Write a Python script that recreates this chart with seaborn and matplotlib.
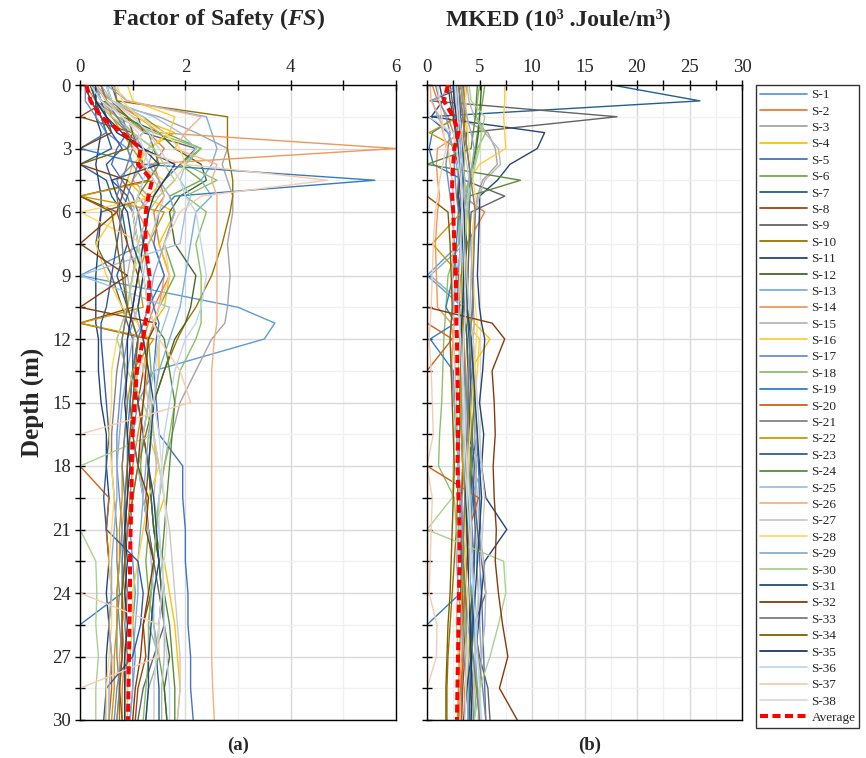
import matplotlib
matplotlib.use("Agg")
import matplotlib.pyplot as plt
from matplotlib.lines import Line2D
from matplotlib.ticker import MultipleLocator, FuncFormatter
import pandas as pd
import seaborn as sns

# Depth of each reading (m)
depth = [0, 0.75, 1.5, 2.25, 3, 3.75, 4.5, 5.25, 6, 7.5, 9, 10.5, 11.25, 12,
         13.5, 15, 16.5, 18, 19.5, 21, 22.5, 24, 25.5, 27, 28.5, 30]

site_names = [f"S-{i}" for i in range(1, 39)]
site_colors = ["#5B9BD5", "#ED7D31", "#A5A5A5", "#FFC000", "#4472C4", "#70AD47",
               "#255E91", "#9E480E", "#636363", "#997300", "#264478", "#43682B",
               "#7CAFDD", "#F1975A", "#B7B7B7", "#FFCD33", "#698ED0", "#8CC168",
               "#327DC2", "#D26012", "#848484", "#CC9A00", "#335AA1", "#5A8A39",
               "#9DC3E6", "#F4B183", "#C9C9C9", "#FFD966", "#8FAADC", "#A9D18E",
               "#1F4E79", "#843C0C", "#7B7B7B", "#7F6000", "#203864", "#BDD7EE",
               "#F8CBAD", "#DBDBDB"]

# Factor of safety against liquefaction, per borehole
fs_s01 = [0.3, 0.5, 0.9, 1.2, 0.9, 1.0, 1.2, 1.1, 1.3, 1.2, 0.0, 3.0, 3.7, 3.5, 1.4, 1.1, 1.0, 1.1, 1.0, 0.95, 1.0, 1.05, 1.0, 1.05, 1.0, 0.95]
fs_s02 = [0.1, 0.3, 0.7, 1.3, 1.6, 1.4, 1.5, 1.6, 1.4, 1.5, 1.7, 1.4, 1.3, 1.2, 1.3, 1.2, 1.1, 1.0, 0.95, 0.9, 0.85, 0.9, 0.8, 0.85, 0.8, 0.8]
fs_s03 = [0.2, 0.4, 1.5, 2.2, 2.8, 2.7, 2.8, 2.9, 2.9, 2.8, 2.85, 2.8, 2.75, 2.5, 2.2, 1.9, 1.75, 1.6, 1.5, 1.45, 1.4, 1.35, 1.3, 1.5, 1.3, 1.25]
fs_s04 = [0.5, 0.6, 1.0, 1.8, 1.3, 1.0, 0.9, 1.2, 1.8, 1.5, 1.7, 1.6, 1.4, 1.5, 1.5, 1.4, 1.3, 1.5, 1.6, 1.4, 1.6, 1.7, 1.8, 1.85, 1.9, 1.85]
fs_s05 = [0.4, 0.5, 0.8, 0.9, 0.7, 0.6, 0.8, 1.0, 1.1, 1.2, 1.3, 1.4, 1.5, 1.45, 1.4, 1.45, 1.5, 1.95, 1.95, 2.0, 2.0, 2.05, 2.05, 2.1, 2.1, 2.15]
fs_s06 = [0.2, 0.6, 1.2, 1.6, 2.3, 1.9, 2.3, 1.7, 1.8, 1.6, 1.8, 1.5, 1.4, 1.3, 1.35, 1.3, 1.2, 1.15, 1.2, 1.3, 1.25, 1.3, 1.4, 1.5, 1.6, 1.65]
fs_s07 = [0.3, 0.3, 0.4, 0.5, 0.6, 0.0, 0.5, 0.6, 0.8, 0.9, 0.7, 0.9, 1.0, 1.1, 1.0, 1.1, 1.2, 1.3, 1.35, 1.4, 1.5, 1.55, 1.5, 1.45, 1.5, 1.5]
fs_s08 = [0.3, 0.5, 0.0, 1.0, 1.1, 1.2, 1.3, 0.0, 0.7, 0.9, 1.1, 1.0, 0.0, 1.3, 1.2, 1.1, 1.2, 1.3, 1.25, 1.3, 1.4, 1.35, 1.2, 1.25, 1.1, 1.05]
fs_s09 = [0.6, 0.7, 1.1, 1.2, 2.2, 1.9, 1.6, 1.4, 0.4, 0.3, 0.6, 0.8, 0.9, 1.0, 1.0, 0.95, 1.0, 1.1, 1.2, 1.3, 1.4, 1.5, 1.6, 1.4, 1.2, 1.1]
fs_s10 = [0.65, 0.7, 2.8, 2.8, 2.8, 2.85, 2.9, 2.9, 2.85, 2.7, 2.5, 2.2, 2.0, 1.85, 1.6, 1.4, 1.25, 1.1, 1.0, 0.9, 0.85, 0.8, 0.8, 0.8, 0.75, 0.75]
fs_s11 = [0.2, 0.3, 0.3, 0.4, 0.35, 0.3, 0.35, 0.4, 0.4, 0.35, 0.3, 0.3, 0.3, 0.35, 0.35, 0.4, 0.5, 0.5, 0.55, 0.5, 0.55, 0.5, 0.55, 0.5, 0.5, 0.5]
fs_s12 = [0.4, 0.5, 0.8, 1.5, 1.8, 2.3, 2.4, 1.9, 1.7, 1.8, 2.2, 2.1, 2.0, 1.8, 1.6, 1.4, 1.35, 1.3, 1.35, 1.4, 1.5, 1.55, 1.6, 1.7, 1.6, 1.65]
fs_s13 = [0.5, 0.9, 2.4, 2.5, 2.6, 2.5, 2.3, 2.5, 2.2, 2.1, 2.0, 1.9, 1.8, 1.7, 1.5, 1.4, 1.3, 1.25, 1.2, 1.15, 1.1, 1.1, 1.05, 1.0, 1.0, 0.95]
fs_s14 = [0.3, 0.6, 1.1, 1.5, 6.0, 1.2, 1.0, 1.3, 1.1, 1.4, 1.6, 1.5, 1.4, 1.3, 1.1, 1.0, 0.95, 0.9, 0.85, 0.8, 0.8, 0.85, 0.8, 0.75, 0.75, 0.7]
fs_s15 = [0.3, 0.5, 0.9, 1.0, 1.4, 1.3, 1.5, 1.4, 1.1, 1.0, 0.9, 1.0, 1.1, 1.2, 1.3, 1.35, 1.4, 1.45, 1.4, 1.5, 1.55, 1.6, 1.6, 1.6, 1.55, 1.55]
fs_s16 = [0.9, 1.0, 1.8, 1.7, 1.3, 1.1, 1.6, 1.3, 0.7, 0.3, 0.5, 0.8, 1.1, 1.3, 1.2, 1.3, 1.4, 1.5, 1.3, 1.2, 1.1, 1.0, 1.0, 0.95, 0.9, 0.9]
fs_s17 = [0.1, 0.1, 0.3, 0.5, 0.9, 1.0, 0.7, 0.8, 1.0, 1.1, 1.2, 1.1, 1.0, 0.9, 0.8, 0.75, 0.7, 0.7, 0.75, 0.8, 0.75, 0.7, 0.75, 0.8, 0.7, 0.65]
fs_s18 = [0.3, 0.4, 0.7, 1.4, 2.3, 2.0, 2.6, 2.0, 2.4, 2.2, 2.3, 2.3, 2.3, 2.2, 1.9, 1.8, 1.7, 1.6, 1.5, 1.45, 1.4, 1.35, 1.3, 1.3, 1.25, 1.2]
fs_s19 = [0.1, 0.2, 0.4, 0.5, 0.0, 1.2, 5.6, 1.8, 1.5, 1.4, 1.6, 1.3, 1.2, 1.1, 1.0, 0.95, 0.9, 0.9, 0.85, 0.85, 0.8, 0.8, 0.0, 0.0, 0.0, 0.0]
fs_s20 = [0.0, 0.0, 0.0, 0.0, 0.0, 0.0, 0.0, 0.0, 0.0, 0.0, 0.0, 0.0, 0.0, 0.0, 0.0, 0.0, 0.0, 0.0, 0.55, 0.5, 0.55, 0.6, 0.55, 0.6, 0.6, 0.55]
fs_s21 = [0.2, 0.3, 0.6, 0.9, 1.2, 1.1, 1.0, 0.9, 1.0, 1.1, 1.0, 0.9, 0.85, 0.8, 0.7, 0.65, 0.6, 0.6, 0.65, 0.7, 0.7, 0.75, 0.7, 0.7, 0.75, 0.7]
fs_s22 = [0.4, 0.5, 0.6, 0.8, 1.0, 1.2, 1.4, 0.0, 1.6, 1.3, 1.1, 1.2, 0.0, 1.4, 1.0, 0.9, 0.85, 0.8, 0.8, 0.75, 0.75, 0.7, 0.7, 0.65, 0.65, 0.6]
fs_s23 = [0.3, 0.4, 0.5, 0.6, 0.8, 0.5, 0.6, 0.9, 0.8, 0.7, 0.6, 0.5, 0.4, 0.4, 0.45, 0.5, 0.55, 0.5, 0.45, 0.5, 1.1, 1.2, 1.15, 1.0, 0.5, 0.45]
fs_s24 = [0.2, 0.4, 0.9, 1.3, 1.4, 1.5, 1.3, 1.1, 1.0, 1.1, 1.2, 1.3, 1.4, 1.6, 1.7, 1.8, 1.75, 1.7, 1.65, 1.6, 1.55, 1.6, 1.7, 1.75, 1.8, 1.8]
fs_s25 = [0.4, 0.6, 1.4, 1.9, 2.2, 2.0, 1.9, 2.1, 2.0, 1.9, 0.0, 1.7, 1.6, 1.5, 1.4, 1.3, 1.2, 1.1, 1.2, 1.3, 1.35, 1.4, 1.4, 1.45, 1.4, 1.4]
fs_s26 = [0.6, 0.9, 2.3, 2.0, 1.8, 2.6, 2.5, 2.6, 2.6, 2.6, 2.6, 2.6, 2.6, 2.55, 2.5, 2.5, 2.5, 2.5, 2.5, 2.5, 2.5, 2.5, 2.5, 2.5, 2.52, 2.55]
fs_s27 = [0.5, 0.6, 1.2, 1.4, 1.3, 1.2, 1.4, 1.6, 1.5, 1.3, 1.2, 1.1, 1.0, 1.1, 1.2, 1.3, 1.4, 1.5, 1.6, 1.7, 1.75, 1.8, 1.85, 1.9, 1.9, 1.85]
fs_s28 = [0.7, 0.8, 1.1, 1.6, 1.9, 2.0, 1.8, 1.5, 0.0, 1.2, 1.0, 0.9, 0.8, 0.7, 0.6, 0.6, 0.55, 0.6, 0.65, 0.6, 0.55, 0.6, 0.6, 0.55, 0.5, 0.5]
fs_s29 = [0.3, 0.4, 0.7, 1.0, 1.2, 1.3, 1.5, 1.7, 1.8, 1.6, 1.4, 1.3, 1.2, 1.0, 0.9, 0.8, 0.75, 0.7, 0.7, 0.65, 0.6, 0.6, 0.55, 0.6, 0.55, 0.55]
fs_s30 = [0.2, 0.3, 0.6, 1.0, 1.4, 1.6, 1.8, 1.5, 1.3, 1.1, 1.0, 0.9, 0.8, 0.7, 0.9, 1.2, 1.4, 0.0, 0.0, 0.0, 0.3, 0.32, 0.3, 0.35, 0.3, 0.3]
fs_s31 = [0.2, 0.3, 0.5, 0.8, 1.2, 1.5, 0.6, 0.7, 0.9, 1.0, 1.2, 1.1, 1.15, 1.2, 1.3, 1.4, 1.35, 1.3, 1.4, 1.45, 1.5, 1.4, 1.35, 1.3, 1.3, 1.25]
fs_s32 = [0.1, 0.2, 0.4, 0.6, 0.0, 0.0, 0.9, 0.8, 0.7, 0.0, 0.9, 0.0, 1.45, 1.3, 1.25, 1.2, 1.15, 1.1, 1.3, 1.25, 1.4, 1.3, 1.2, 1.15, 1.05, 1.0]
fs_s33 = [0.4, 0.5, 0.7, 0.9, 1.0, 0.9, 0.8, 0.7, 0.75, 0.8, 0.85, 0.9, 0.85, 0.8, 0.85, 0.9, 0.85, 0.8, 0.85, 0.9, 0.85, 0.9, 0.85, 0.9, 0.85, 0.85]
fs_s34 = [0.5, 0.6, 0.9, 1.0, 0.9, 0.0, 0.0, 0.0, 0.6, 0.7, 0.8, 0.9, 1.0, 1.1, 1.05, 1.0, 0.95, 0.9, 0.9, 0.85, 0.85, 0.8, 0.8, 0.8, 0.75, 0.8]
fs_s35 = [0.3, 0.3, 0.5, 0.7, 1.2, 1.8, 1.6, 1.4, 1.3, 1.2, 1.1, 1.0, 0.95, 0.9, 0.9, 0.85, 0.9, 0.95, 0.9, 0.85, 0.9, 0.85, 0.9, 0.85, 0.85, 0.85]
fs_s36 = [0.5, 0.6, 1.0, 1.3, 1.5, 1.7, 1.9, 2.0, 2.2, 2.3, 2.4, 2.3, 2.2, 2.0, 1.8, 1.7, 1.6, 1.55, 1.5, 1.5, 1.55, 1.6, 1.6, 1.65, 1.7, 1.7]
fs_s37 = [0.3, 0.5, 0.8, 1.2, 1.0, 2.0, 4.7, 2.3, 1.9, 1.6, 1.7, 1.5, 1.4, 1.5, 1.9, 2.1, 0.0, 0.0, 0.0, 0.0, 0.0, 0.0, 1.5, 1.5, 0.0, 0.0]
fs_s38 = [0.2, 0.4, 0.8, 1.1, 1.2, 1.3, 1.2, 1.1, 1.0, 1.1, 1.2, 1.3, 1.4, 1.5, 1.45, 1.4, 1.5, 1.55, 1.6, 1.65, 1.6, 1.55, 1.5, 1.45, 1.4, 1.4]
fs_average = [0.12, 0.2, 0.4, 0.8, 1.15, 1.1, 1.37, 1.3, 1.25, 1.24, 1.32, 1.3, 1.24, 1.2, 1.08, 1.04, 1.0, 0.98, 0.98, 0.96, 0.95, 0.95, 0.94, 0.93, 0.92, 0.91]

# Maximum kinetic energy density (10^3 J/m^3), per borehole
mked_s01 = [3.0, 3.2, 3.4, 3.0, 2.8, 2.6, 2.7, 2.8, 3.0, 3.1, 0.0, 3.4, 3.6, 3.5, 3.3, 3.2, 3.3, 3.4, 3.3, 3.4, 3.5, 3.4, 3.3, 3.4, 3.3, 3.2]
mked_s02 = [0.5, 1.0, 2.0, 2.5, 2.8, 3.0, 3.2, 3.4, 5.5, 3.8, 3.5, 3.7, 3.6, 3.5, 3.7, 3.9, 4.0, 4.2, 4.0, 3.8, 3.9, 4.1, 3.7, 3.9, 3.6, 3.5]
mked_s03 = [3.5, 3.2, 3.0, 5.8, 6.5, 6.7, 5.3, 4.8, 4.6, 4.4, 4.3, 4.4, 4.5, 4.4, 4.5, 4.6, 4.5, 4.7, 4.6, 4.8, 4.7, 4.9, 5.0, 5.2, 5.0, 4.9]
mked_s04 = [3.2, 3.4, 3.6, 3.8, 3.7, 3.5, 3.6, 3.8, 3.9, 4.0, 3.9, 3.8, 4.5, 6.0, 4.1, 4.3, 4.0, 3.8, 3.6, 3.7, 3.9, 4.2, 4.4, 4.6, 4.5, 4.4]
mked_s05 = [3.4, 3.5, 3.4, 3.6, 3.8, 4.0, 4.2, 4.1, 4.0, 4.2, 4.3, 4.4, 4.2, 4.1, 4.4, 4.5, 4.7, 4.9, 5.0, 5.1, 5.0, 5.2, 5.3, 5.4, 5.5, 5.6]
mked_s06 = [5.5, 5.3, 5.0, 4.8, 4.6, 4.3, 4.1, 3.9, 3.7, 3.5, 3.8, 3.6, 3.4, 3.3, 3.5, 3.7, 3.6, 3.8, 3.9, 4.1, 4.0, 4.2, 4.4, 4.6, 4.8, 5.0]
mked_s07 = [17.6, 26.0, 0.2, 2.0, 2.5, 3.0, 3.2, 3.4, 3.6, 3.5, 3.4, 3.6, 3.7, 3.8, 3.9, 4.0, 4.1, 4.2, 4.3, 4.2, 4.1, 4.0, 4.2, 4.3, 4.1, 4.0]
mked_s08 = [2.2, 2.4, 2.6, 2.8, 3.0, 3.1, 3.0, 2.9, 3.1, 3.2, 3.0, 3.1, 3.2, 3.3, 3.2, 3.1, 3.3, 3.4, 3.3, 3.2, 3.3, 3.4, 3.5, 3.6, 3.4, 3.3]
mked_s09 = [4.0, 0.3, 18.1, 3.8, 3.5, 3.4, 3.6, 7.4, 4.2, 4.0, 3.9, 3.8, 4.0, 4.1, 4.2, 4.5, 4.8, 4.2, 4.5, 4.8, 5.2, 5.6, 4.5, 5.0, 5.8, 6.0]
mked_s10 = [3.5, 3.6, 3.6, 3.5, 3.5, 3.4, 3.5, 3.5, 3.4, 3.4, 3.3, 3.4, 3.3, 3.3, 3.2, 3.2, 3.1, 3.0, 2.9, 2.8, 2.6, 2.4, 2.2, 2.0, 1.9, 1.9]
mked_s11 = [1.2, 1.5, 0.4, 11.2, 10.5, 7.9, 6.7, 5.0, 5.0, 4.9, 4.8, 5.0, 5.2, 5.5, 5.3, 5.0, 5.4, 5.2, 5.6, 7.6, 5.5, 5.2, 4.9, 4.6, 4.2, 3.9]
mked_s12 = [5.2, 5.1, 5.0, 4.9, 4.7, 4.4, 4.2, 3.7, 3.5, 3.8, 3.6, 3.5, 3.7, 3.8, 3.9, 4.0, 4.2, 4.3, 4.0, 4.2, 4.5, 4.3, 4.1, 3.9, 4.0, 4.1]
mked_s13 = [3.0, 0.5, 1.0, 2.0, 2.5, 2.8, 3.0, 3.2, 3.4, 3.6, 0.3, 3.8, 4.0, 4.2, 3.9, 3.7, 3.5, 5.3, 4.2, 4.0, 3.8, 4.3, 4.5, 4.6, 4.7, 4.5]
mked_s14 = [3.8, 3.6, 3.4, 3.2, 1.0, 0.9, 1.0, 1.2, 1.0, 0.8, 0.9, 1.0, 2.3, 2.5, 2.3, 2.6, 2.8, 3.0, 3.2, 3.4, 3.6, 3.8, 3.5, 3.3, 3.1, 3.0]
mked_s15 = [3.8, 4.0, 4.5, 5.5, 6.8, 7.0, 5.5, 5.0, 4.5, 4.3, 4.2, 4.1, 4.0, 4.1, 4.3, 4.5, 4.7, 4.6, 4.8, 5.0, 5.4, 5.6, 5.5, 5.2, 5.0, 4.9]
mked_s16 = [7.4, 7.4, 7.3, 7.4, 7.5, 5.0, 4.0, 3.5, 3.4, 3.3, 3.5, 3.6, 3.8, 5.0, 4.8, 4.5, 4.3, 4.2, 4.0, 3.8, 3.6, 3.5, 3.7, 3.9, 4.0, 4.1]
mked_s17 = [0.8, 1.2, 1.8, 2.2, 2.0, 1.8, 2.0, 2.2, 2.4, 2.6, 2.8, 3.0, 3.2, 3.4, 3.6, 3.3, 3.1, 3.0, 3.2, 3.4, 3.6, 3.8, 3.7, 3.9, 4.0, 4.1]
mked_s18 = [5.0, 4.8, 4.7, 5.6, 4.8, 4.5, 4.0, 3.5, 3.2, 3.0, 2.0, 1.8, 1.7, 1.6, 1.5, 1.4, 1.2, 1.1, 2.6, 2.8, 3.3, 3.5, 3.6, 3.8, 3.9, 4.0]
mked_s19 = [2.5, 2.6, 2.8, 0.5, 0.2, 0.6, 3.5, 3.2, 3.0, 2.8, 2.5, 1.8, 2.7, 0.3, 2.5, 2.6, 2.8, 3.0, 3.1, 3.2, 3.3, 3.2, 0.0, 0.0, 0.0, 0.0]
mked_s20 = [0.0, 0.0, 0.0, 0.0, 0.0, 0.0, 0.0, 0.0, 0.0, 0.0, 0.0, 0.0, 0.0, 2.4, 0.0, 0.0, 0.0, 0.0, 4.9, 4.0, 3.8, 3.6, 3.4, 3.5, 3.2, 3.0]
mked_s21 = [2.8, 2.9, 3.0, 3.1, 3.2, 3.1, 3.0, 3.2, 3.3, 3.4, 3.5, 3.6, 3.5, 3.4, 3.6, 3.8, 3.9, 4.0, 4.1, 4.3, 4.5, 4.3, 4.6, 4.9, 5.3, 5.6]
mked_s22 = [3.2, 3.4, 3.0, 0.2, 3.0, 3.2, 3.3, 3.4, 3.3, 0.5, 3.2, 3.3, 3.4, 3.5, 3.3, 3.2, 3.3, 3.4, 3.6, 3.5, 3.4, 3.3, 3.2, 3.1, 3.0, 2.9]
mked_s23 = [3.0, 3.1, 3.2, 3.3, 3.4, 3.5, 3.4, 3.3, 3.5, 3.6, 3.7, 3.8, 3.9, 4.0, 4.1, 4.2, 4.3, 4.5, 4.4, 4.6, 4.5, 4.4, 4.3, 4.2, 4.1, 4.0]
mked_s24 = [4.8, 4.7, 4.6, 4.4, 4.2, 0.0, 8.9, 4.0, 3.8, 3.6, 3.7, 3.8, 4.0, 4.2, 4.4, 4.5, 4.3, 4.2, 4.0, 3.8, 3.5, 3.7, 3.9, 4.1, 4.3, 4.4]
mked_s25 = [2.6, 2.7, 2.9, 3.0, 3.2, 3.4, 3.6, 3.5, 3.4, 3.3, 3.5, 3.7, 3.6, 3.5, 3.4, 3.6, 3.7, 3.9, 4.1, 4.2, 4.3, 4.5, 4.8, 4.6, 4.4, 4.3]
mked_s26 = [0.3, 0.4, 1.2, 1.5, 2.0, 2.2, 2.4, 2.5, 2.6, 2.5, 2.4, 2.5, 2.6, 2.5, 2.7, 2.8, 2.9, 3.0, 3.1, 3.2, 3.0, 2.9, 2.8, 3.0, 3.1, 3.2]
mked_s27 = [2.9, 3.0, 3.1, 3.3, 3.5, 3.8, 4.0, 3.9, 3.7, 3.6, 3.8, 4.0, 4.2, 4.4, 4.6, 4.8, 5.0, 5.2, 5.5, 5.3, 5.1, 4.9, 4.7, 4.5, 4.3, 4.2]
mked_s28 = [3.6, 3.7, 3.8, 3.9, 4.0, 4.2, 4.4, 4.6, 4.5, 4.3, 4.4, 4.6, 4.8, 4.7, 4.5, 4.3, 4.1, 3.9, 3.8, 3.7, 3.6, 3.8, 4.0, 3.9, 3.7, 3.6]
mked_s29 = [3.3, 3.5, 3.8, 4.2, 4.5, 4.3, 4.0, 3.7, 3.5, 3.3, 2.8, 2.5, 2.3, 2.2, 2.4, 2.6, 2.8, 3.0, 3.2, 3.0, 2.8, 3.0, 3.3, 3.6, 3.8, 3.9]
mked_s30 = [4.0, 4.2, 5.5, 5.2, 5.0, 4.6, 4.3, 4.0, 3.8, 3.6, 3.4, 3.3, 3.2, 3.1, 3.0, 2.8, 2.6, 2.5, 2.4, 0.0, 7.3, 7.5, 6.8, 6.0, 5.0, 4.5]
mked_s31 = [2.0, 2.2, 2.5, 2.7, 3.0, 3.2, 3.1, 3.0, 3.2, 3.4, 3.6, 3.8, 4.0, 4.2, 4.4, 4.6, 4.8, 5.0, 5.2, 5.0, 4.8, 4.6, 4.4, 4.2, 3.8, 3.5]
mked_s32 = [0.0, 0.0, 0.0, 0.0, 0.0, 0.0, 0.0, 0.0, 0.0, 0.0, 0.0, 0.0, 6.2, 7.4, 6.2, 6.4, 6.5, 6.3, 6.4, 6.6, 6.5, 6.8, 7.2, 7.7, 6.9, 8.6]
mked_s33 = [3.0, 3.2, 3.4, 3.6, 3.8, 4.0, 4.2, 4.4, 4.6, 4.5, 4.4, 4.3, 4.2, 4.1, 4.0, 3.9, 3.8, 3.7, 3.6, 3.5, 3.4, 3.6, 3.9, 4.4, 4.7, 5.0]
mked_s34 = [0.0, 0.0, 0.0, 0.0, 0.0, 0.0, 0.0, 0.0, 2.0, 2.2, 2.3, 2.4, 2.3, 2.2, 2.3, 2.4, 2.5, 2.6, 2.5, 2.4, 2.3, 2.2, 2.0, 1.9, 1.8, 1.8]
mked_s35 = [2.5, 2.6, 2.8, 3.0, 3.1, 3.2, 3.3, 3.4, 3.5, 3.6, 3.5, 3.4, 3.3, 3.2, 3.3, 3.4, 3.5, 3.6, 3.7, 3.8, 3.9, 4.0, 4.1, 4.2, 4.3, 4.2]
mked_s36 = [2.7, 2.8, 2.9, 3.0, 3.1, 3.2, 3.3, 3.4, 3.3, 3.2, 3.1, 3.0, 3.1, 3.2, 3.3, 3.4, 3.5, 3.6, 3.8, 4.0, 4.2, 4.4, 4.6, 4.8, 5.0, 5.2]
mked_s37 = [1.0, 1.2, 1.4, 1.6, 1.8, 1.5, 1.2, 1.0, 0.8, 0.6, 0.5, 0.4, 0.3, 0.2, 0.4, 0.5, 0.6, 0.0, 0.5, 0.4, 0.3, 0.2, 0.95, 0.9, 0.0, 0.0]
mked_s38 = [0.1, 0.1, 0.2, 2.5, 2.8, 3.0, 3.2, 3.3, 3.4, 3.5, 3.6, 3.7, 3.6, 3.5, 3.4, 3.5, 3.6, 3.8, 4.0, 4.2, 4.1, 4.0, 3.9, 3.8, 3.7, 3.6]
mked_average = [2.0, 1.6, 2.5, 3.0, 2.6, 2.5, 2.4, 2.4, 2.5, 2.6, 2.75, 2.8, 2.8, 2.85, 2.9, 2.95, 2.95, 2.9, 3.0, 3.1, 3.1, 3.05, 3.0, 2.95, 2.9, 2.85]

fs_series = [fs_s01, fs_s02, fs_s03, fs_s04, fs_s05, fs_s06, fs_s07, fs_s08, fs_s09, fs_s10,
             fs_s11, fs_s12, fs_s13, fs_s14, fs_s15, fs_s16, fs_s17, fs_s18, fs_s19, fs_s20,
             fs_s21, fs_s22, fs_s23, fs_s24, fs_s25, fs_s26, fs_s27, fs_s28, fs_s29, fs_s30,
             fs_s31, fs_s32, fs_s33, fs_s34, fs_s35, fs_s36, fs_s37, fs_s38]
mked_series = [mked_s01, mked_s02, mked_s03, mked_s04, mked_s05, mked_s06, mked_s07, mked_s08,
               mked_s09, mked_s10, mked_s11, mked_s12, mked_s13, mked_s14, mked_s15, mked_s16,
               mked_s17, mked_s18, mked_s19, mked_s20, mked_s21, mked_s22, mked_s23, mked_s24,
               mked_s25, mked_s26, mked_s27, mked_s28, mked_s29, mked_s30, mked_s31, mked_s32,
               mked_s33, mked_s34, mked_s35, mked_s36, mked_s37, mked_s38]

for label, group in (("FS", fs_series), ("MKED", mked_series)):
    for name, vals in zip(site_names, group):
        if len(vals) != len(depth):
            raise ValueError(f"{label} {name}: {len(vals)} values")


def long_table(group):
    rows = []
    for name, vals in zip(site_names, group):
        for i, (d, v) in enumerate(zip(depth, vals)):
            rows.append({"site": name, "step": i, "depth": d, "value": v})
    return pd.DataFrame(rows)


sns.set_theme(style="white")
plt.rcParams["font.family"] = ["Liberation Serif", "DejaVu Serif"]
plt.rcParams["mathtext.fontset"] = "custom"
plt.rcParams["mathtext.rm"] = "Liberation Serif"
plt.rcParams["mathtext.it"] = "Liberation Serif:italic"
plt.rcParams["mathtext.bf"] = "Liberation Serif:bold"
plt.rcParams["mathtext.bfit"] = "Liberation Serif:italic:bold"

fig = plt.figure(figsize=(8.66, 7.58), dpi=100)
W, H = 866, 758
ax_a = fig.add_axes([80 / W, 1 - 720 / H, 316 / W, 635 / H])
ax_b = fig.add_axes([427 / W, 1 - 720 / H, 315 / W, 635 / H])

palette = dict(zip(site_names, site_colors))
avg_dash = (0, (2.0, 1.1))
panels = [
    (ax_a, fs_series, fs_average, 6, 2, 1),
    (ax_b, mked_series, mked_average, 30, 5, 2.5),
]
for ax, group, avg, xmax, xmaj, xmin in panels:
    data = long_table(group)
    sns.lineplot(data=data, x="value", y="depth", hue="site", palette=palette,
                 units="site", estimator=None, sort=False, legend=False,
                 linewidth=1.0, ax=ax)
    sns.lineplot(x=avg, y=depth, sort=False, estimator=None, color="#FF0000",
                 linewidth=2.9, linestyle=avg_dash, ax=ax, zorder=5)
    ax.set_xlim(0, xmax)
    ax.set_ylim(30, 0)
    ax.xaxis.set_major_locator(MultipleLocator(xmaj))
    ax.xaxis.set_minor_locator(MultipleLocator(xmin))
    ax.yaxis.set_major_locator(MultipleLocator(3))
    ax.yaxis.set_minor_locator(MultipleLocator(1.5))
    ax.xaxis.set_major_formatter(FuncFormatter(lambda v, p: f"{v:g}"))
    ax.grid(which="major", color="#D9D9D9", linewidth=1.0)
    ax.grid(which="minor", color="#F0F0F0", linewidth=1.0)
    ax.set_axisbelow(True)
    ax.tick_params(which="both", direction="inout", length=7, width=1.0, color="black",
                   top=True, bottom=False, labeltop=True, labelbottom=False,
                   left=True, right=False, labelsize=13.5, pad=3)
    ax.set_xlabel("")
    ax.set_ylabel("")
    for sp in ax.spines.values():
        sp.set_color("black")
        sp.set_linewidth(1.0)

ax_b.tick_params(labelleft=False)
ax_a.set_ylabel("Depth (m)", fontsize=18, fontweight="bold", labelpad=6)

fig.text(218 / W, 1 - 19 / H, r"Factor of Safety ($\mathbfit{FS}$)", ha="center", va="center",
         fontsize=17, fontweight="bold")
fig.text(558 / W, 1 - 19 / H, "MKED (10³ .Joule/m³)", ha="center", va="center",
         fontsize=17, fontweight="bold")
fig.text(238 / W, 1 - 745 / H, "(a)", ha="center", va="center", fontsize=13.5, fontweight="bold")
fig.text(590 / W, 1 - 745 / H, "(b)", ha="center", va="center", fontsize=13.5, fontweight="bold")

handles = [Line2D([0], [0], color=c, lw=1.3) for c in site_colors]
handles.append(Line2D([0], [0], color="#FF0000", lw=2.9, linestyle=avg_dash))
labels = site_names + ["Average"]
leg = fig.legend(handles, labels, loc="upper left", bbox_to_anchor=(756 / W, 1 - 85 / H),
                 frameon=True, fancybox=False, edgecolor="black", fontsize=9.5,
                 handlelength=3.6, handletextpad=0.3, labelspacing=0.315,
                 borderpad=0.3, borderaxespad=0)
leg.get_frame().set_linewidth(1.0)

fig.savefig("out.png", dpi=100)
